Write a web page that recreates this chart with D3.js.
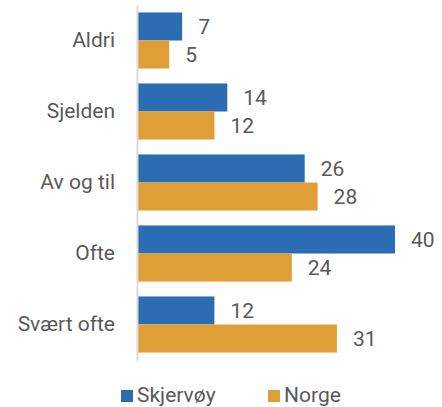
<!DOCTYPE html>
<html>
<head>
<meta charset="utf-8">
<script src="https://cdn.jsdelivr.net/npm/d3@7"></script>
<style>
  body { margin: 0; background: #fff; }
  text { font-family: "Roboto", "Noto Sans", sans-serif; fill: #595959; }
</style>
</head>
<body>
<svg id="chart" width="442" height="407"></svg>
<script>
// data
const categories = ["Aldri", "Sjelden", "Av og til", "Ofte", "Svært ofte"];
const seriesNames = ["Skjervøy", "Norge"];
const skjervoy = [7, 14, 26, 40, 12];
const norge = [5, 12, 28, 24, 31];
const colors = ["#2B6CB3", "#E09F36"];

const svg = d3.select("#chart"),
    mLeft = 137, mTop = 5, mBottom = 360, fs = 21;

let x = d3.scaleLinear().domain([0, 40]).range([mLeft, 395]);
let y = d3.scaleBand().domain(categories).range([mTop, mBottom]).paddingInner(0.21).paddingOuter(0.105);
let ySub = d3.scaleBand().domain(seriesNames).range([0, y.bandwidth()]);

const rows = categories.map((c, i) => ({cat: c, vals: [skjervoy[i], norge[i]]}));

// bars
let g = svg.selectAll('.grp').data(rows).enter()
    .append('g')
    .attr('class', 'grp')
    .attr('transform', d => `translate(0,${y(d.cat)})`);

g.selectAll('rect').data(d => d.vals.map((v, j) => ({v: v, s: seriesNames[j], j: j})))
    .enter().append('rect')
    .attr('x', x(0))
    .attr('y', d => ySub(d.s))
    .attr('width', d => x(d.v) - x(0))
    .attr('height', ySub.bandwidth())
    .attr('fill', d => colors[d.j]);

g.selectAll('.val').data(d => d.vals.map((v, j) => ({v: v, s: seriesNames[j]})))
    .enter().append('text')
    .attr('class', 'val')
    .attr('x', d => x(d.v) + 16)
    .attr('y', d => ySub(d.s) + ySub.bandwidth() / 2)
    .attr('dy', '0.36em')
    .attr('font-size', fs)
    .text(d => d.v);

// axis line + category labels
let yAxis = svg.append('g')
    .attr('transform', `translate(${mLeft},0)`)
    .call(d3.axisLeft(y).tickSize(0).tickPadding(22));
yAxis.select('.domain').attr('stroke', '#d9d9d9').attr('stroke-width', 2);
yAxis.selectAll('text').attr('font-size', fs).attr('font-family', null).attr('fill', '#595959');

// legend
let leg = svg.append('g').selectAll('g').data(seriesNames).enter()
    .append('g')
    .attr('transform', (d, i) => `translate(${i ? 268 : 121},390)`);
leg.append('rect').attr('width', 12).attr('height', 12).attr('fill', (d, i) => colors[i]);
leg.append('text').attr('x', 16).attr('y', 12)
    .attr('font-size', fs).text(d => d);
</script>
</body>
</html>
